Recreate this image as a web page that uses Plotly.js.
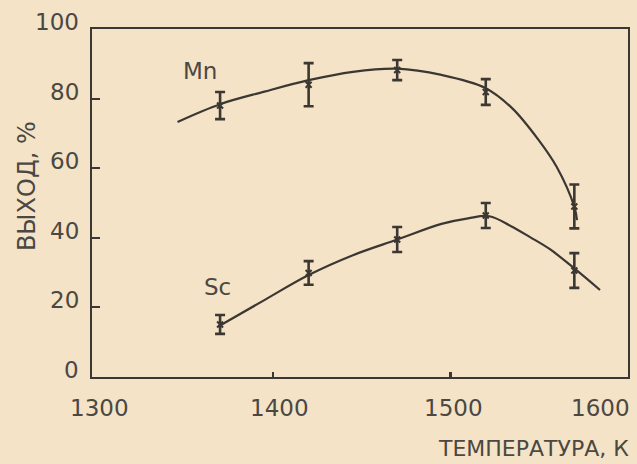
<!DOCTYPE html>
<html>
<head>
<meta charset="utf-8">
<script src="https://cdn.plot.ly/plotly-3.0.1.min.js"></script>
<style>
html,body{margin:0;padding:0;background:#f4e3c6;}
#chart{width:637px;height:464px;}
</style>
</head>
<body>
<div id="chart"></div>
<script>
// measured points (temperature, K)
const temps = [1370, 1420, 1470, 1520, 1570];
const mnYield = [78.0, 84.0, 88.2, 81.9, 49.0];
const mnErr = [3.9, 6.2, 2.9, 3.7, 6.3];
const scYield = [15.1, 29.9, 39.5, 46.4, 30.6];
const scErr = [2.7, 3.4, 3.6, 3.6, 5.0];

// hand-drawn fitted curves
const mnCurveX = [1346, 1370, 1395, 1420, 1445, 1470, 1495, 1520, 1535, 1550, 1560, 1570, 1571.5];
const mnCurveY = [73.3, 78.4, 82.0, 85.3, 87.7, 88.6, 86.8, 83.0, 77.2, 68.0, 60.4, 48.9, 45.1];
const scCurveX = [1369, 1395, 1420, 1445, 1470, 1495, 1510, 1522, 1534, 1545, 1556, 1570, 1584.5];
const scCurveY = [14.5, 22.1, 29.3, 35.0, 39.5, 44.0, 45.6, 46.2, 43.4, 40.2, 36.8, 31.2, 25.0];

const xTickVals = [1300, 1400, 1500, 1600];
const xTickText = ['1300', '1400', '1500', '1600'];
const yTickVals = [0, 20, 40, 60, 80, 100];
const yTickText = ['0', '20', '40', '60', '80', '100'];

const xTitle = 'ТЕМПЕРАТУРА, К';
const yTitle = 'ВЫХОД, %';

const ink = '#3b3733';
const txt = '#4b4743';
const fontFam = 'DejaVu Sans, sans-serif';
const fs = 23;

const curveStyle = {color: ink, width: 2.2, shape: 'spline', smoothing: 1};
const pointStyle = (arr) => ({
  type: 'data', array: arr, visible: true, color: ink, thickness: 2.6, width: 5
});

const traces = [
  {x: mnCurveX, y: mnCurveY, mode: 'lines', line: curveStyle, hoverinfo: 'skip'},
  {x: scCurveX, y: scCurveY, mode: 'lines', line: curveStyle, hoverinfo: 'skip'},
  {x: temps, y: mnYield, mode: 'markers', error_y: pointStyle(mnErr),
   marker: {symbol: 'x-thin', size: 6, line: {color: ink, width: 2}, color: ink}},
  {x: temps, y: scYield, mode: 'markers', error_y: pointStyle(scErr),
   marker: {symbol: 'x-thin', size: 6, line: {color: ink, width: 2}, color: ink}}
];

const xLabelShift = [3, 6, 3, -27];
const annotations = xTickVals.map((v, i) => ({
  x: v, xref: 'x', y: -0.09, yref: 'paper', text: xTickText[i], showarrow: false,
  xanchor: 'center', yanchor: 'middle', xshift: xLabelShift[i],
  font: {family: fontFam, size: fs, color: txt}
}));
yTickVals.forEach((v, i) => annotations.push({
  x: -0.0205, xref: 'paper', y: v, yref: 'y', text: yTickText[i], showarrow: false,
  xanchor: 'right', yanchor: 'middle', yshift: 7,
  font: {family: fontFam, size: fs, color: txt}
}));
annotations.push(
  {x: 1.004, xref: 'paper', y: -0.2055, yref: 'paper', text: xTitle, showarrow: false,
   xanchor: 'right', yanchor: 'middle', borderpad: 0,
   font: {family: fontFam, size: 22, color: txt}},
  {x: -0.121, xref: 'paper', y: 0.549, yref: 'paper', text: yTitle, showarrow: false,
   textangle: -90, xanchor: 'center', yanchor: 'middle',
   font: {family: fontFam, size: 24, color: txt}},
  {x: 1358.7, y: 87.9, text: 'Mn', showarrow: false,
   font: {family: fontFam, size: fs, color: txt}},
  {x: 1368.3, y: 25.8, text: 'Sc', showarrow: false,
   font: {family: fontFam, size: fs, color: txt}}
);

const layout = {
  width: 637, height: 464,
  margin: {l: 92, r: 9, t: 29, b: 87, pad: 0},
  paper_bgcolor: '#f4e3c6', plot_bgcolor: '#f4e3c6',
  showlegend: false,
  xaxis: {
    range: [1297.7, 1600.3], showgrid: false, zeroline: false,
    showline: true, linecolor: ink, linewidth: 2.2, mirror: true,
    tickvals: [1400, 1500], ticks: 'inside', ticklen: 5, tickwidth: 2.5, tickcolor: ink,
    showticklabels: false, fixedrange: true
  },
  yaxis: {
    range: [0, 100], showgrid: false, zeroline: false,
    showline: true, linecolor: ink, linewidth: 2.2, mirror: true,
    tickvals: [20, 40, 60, 80], ticks: 'inside', ticklen: 8, tickwidth: 2.2,
    tickcolor: ink, showticklabels: false, fixedrange: true
  },
  annotations: annotations
};

Plotly.newPlot('chart', traces, layout, {displayModeBar: false, staticPlot: true});
</script>
</body>
</html>
